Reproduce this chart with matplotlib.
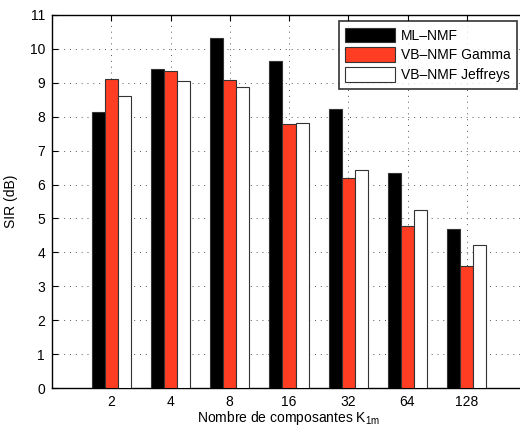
import matplotlib
matplotlib.use('Agg')
import matplotlib.pyplot as plt
import numpy as np

plt.rcParams['font.family'] = ['Liberation Sans', 'DejaVu Sans']
plt.rcParams['mathtext.default'] = 'regular'

# data
categories = ['2', '4', '8', '16', '32', '64', '128']
ml_nmf = [8.15, 9.41, 10.32, 9.63, 8.23, 6.34, 4.68]
vb_gamma = [9.12, 9.36, 9.08, 7.78, 6.20, 4.77, 3.59]
vb_jeffreys = [8.62, 9.05, 8.88, 7.81, 6.44, 5.24, 4.22]
series_names = ['ML\u2013NMF', 'VB\u2013NMF Gamma', 'VB\u2013NMF Jeffreys']
series_colors = ['#000000', '#ff3d22', '#ffffff']

fig = plt.figure(figsize=(5.2, 4.3), dpi=100)
ax = fig.add_axes([52 / 520, 42 / 430, 474 / 520, 373 / 430])

x = np.arange(1, len(categories) + 1)
w = 0.222
for k, (vals, name, col) in enumerate(zip([ml_nmf, vb_gamma, vb_jeffreys], series_names, series_colors)):
  ax.bar(x + (k - 1) * w, vals, width=w, color=col, edgecolor='#333333',
         linewidth=0.8, label=name, zorder=3)

ax.set_xlim(0, 8)
ax.set_ylim(0, 11)
ax.set_xticks(x)
ax.set_xticklabels(categories)
ax.set_yticks(range(0, 12))
ax.tick_params(direction='in', top=True, right=True, labelsize=10, length=4, width=0.8, pad=5)
ax.grid(True, linestyle=(0, (1, 5)), color='#555555', linewidth=0.7, zorder=0)
for s in ax.spines.values():
  s.set_linewidth(1.0)

ax.set_xlabel('Nombre de composantes K$_{1m}$', fontsize=10, labelpad=0)
ax.set_ylabel('SIR (dB)', fontsize=10)
ax.yaxis.set_label_coords(-0.072, 0.5)

leg = ax.legend(loc='upper right', bbox_to_anchor=(516.7 / 520, 1 - 21.3 / 430),
                bbox_transform=fig.transFigure, fancybox=False, edgecolor='black',
                fontsize=10, handlelength=3.6, handleheight=1.25, borderpad=0.45,
                labelspacing=0.35, handletextpad=0.4, borderaxespad=0)
leg.get_frame().set_linewidth(1.2)
leg.set_zorder(5)

fig.savefig('out.png', dpi=100)
